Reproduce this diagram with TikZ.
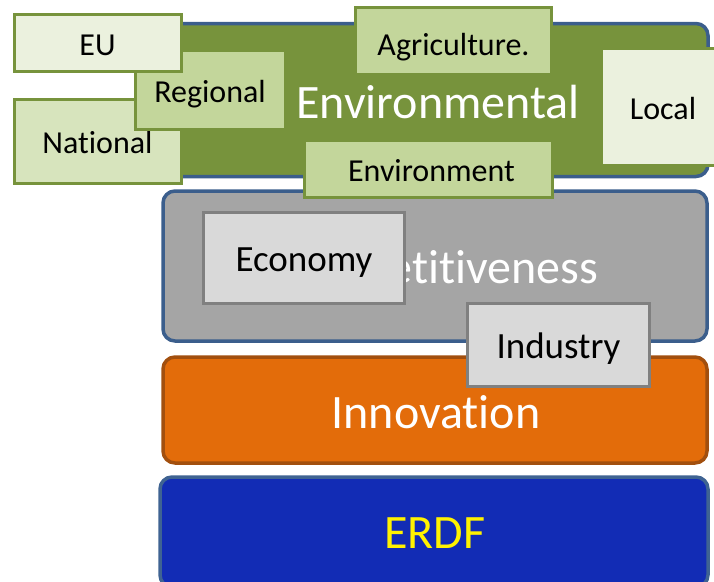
\documentclass[tikz,border=0pt]{standalone}
\usepackage{fontspec}
\setmainfont{Carlito}[Ligatures=NoCommon]
\definecolor{layerblue}{HTML}{3B5E8C}
\definecolor{envgreen}{HTML}{77933C}
\definecolor{compgray}{HTML}{A5A5A5}
\definecolor{innorange}{HTML}{E36C0A}
\definecolor{innborder}{HTML}{A24F0E}
\definecolor{erdfblue}{HTML}{122CB5}
\definecolor{erdfborder}{HTML}{3F6392}
\definecolor{lightgreen}{HTML}{EBF1DE}
\definecolor{midgreen}{HTML}{D7E4BD}
\definecolor{leafgreen}{HTML}{C3D69B}
\definecolor{boxgray}{HTML}{D9D9D9}
\definecolor{boxborder}{HTML}{808080}
\tikzset{
  layer/.style={draw, rounded corners=12pt, line width=3.5pt, inner sep=0pt},
  layertext/.style={anchor=base, font=\fontsize{48}{50}\selectfont, inner sep=0pt},
  gbox/.style={draw=envgreen, line width=3pt, inner sep=0pt, text height=25pt, text depth=0pt, font=\fontsize{32}{34}\selectfont, text=black},
  graybox/.style={draw=boxborder, line width=3pt, fill=boxgray, inner sep=0pt, text height=27pt, text depth=0pt, font=\fontsize{37}{39}\selectfont, text=black},
}
\begin{document}
\begin{tikzpicture}[x=1pt, y=-1pt]
\useasboundingbox (0,0) rectangle (714,581);
\begin{scope}
\clip (0,0) rectangle (714,581);
% layers
\node[layer, draw=layerblue, fill=envgreen, minimum width=545pt, minimum height=153pt] (env) at (435.5,100) {};
\node[layer, draw=layerblue, fill=compgray, minimum width=544pt, minimum height=150pt] (comp) at (435,266) {};
\node[layer, draw=innborder, fill=innorange, minimum width=544pt, minimum height=106pt] (inn) at (435,410) {};
\node[layer, draw=erdfborder, fill=erdfblue, minimum width=548pt, minimum height=110pt] (erdf) at (434,532) {};
% layer texts
\node[layertext, text=white] (envtext) at (438,118) {Environmental};
\node[layertext, text=white] (comptext) at (436,283) {Competitiveness};
\node[layertext, text=white] (inntext) at (436,428) {Innovation};
\node[layertext, text=yellow] (erdftext) at (435,548) {ERDF};
% green boxes
\node[gbox, fill=midgreen, minimum width=167pt, minimum height=84pt] (national) at (97.5,141) {National};
\node[gbox, fill=leafgreen, minimum width=150pt, minimum height=79pt] (regional) at (210,90) {Regional};
\node[gbox, fill=lightgreen, minimum width=167pt, minimum height=57pt] (eu) at (97.5,42.5) {EU};
\node[gbox, fill=leafgreen, minimum width=196pt, minimum height=67pt, text height=28pt] (agri) at (453.5,41) {Agriculture.};
\node[gbox, fill=leafgreen, minimum width=248pt, minimum height=57pt] (environment) at (428.5,169) {\hspace*{6pt}Environment};
\node[gbox, fill=lightgreen, minimum width=124pt, minimum height=117pt] (local) at (663,106.5) {Local};
% gray boxes
\node[graybox, minimum width=201pt, minimum height=91pt] (economy) at (304,258) {Economy};
\node[graybox, minimum width=182pt, minimum height=83pt] (industry) at (558.5,345) {Industry};
\end{scope}
\end{tikzpicture}
\end{document}
